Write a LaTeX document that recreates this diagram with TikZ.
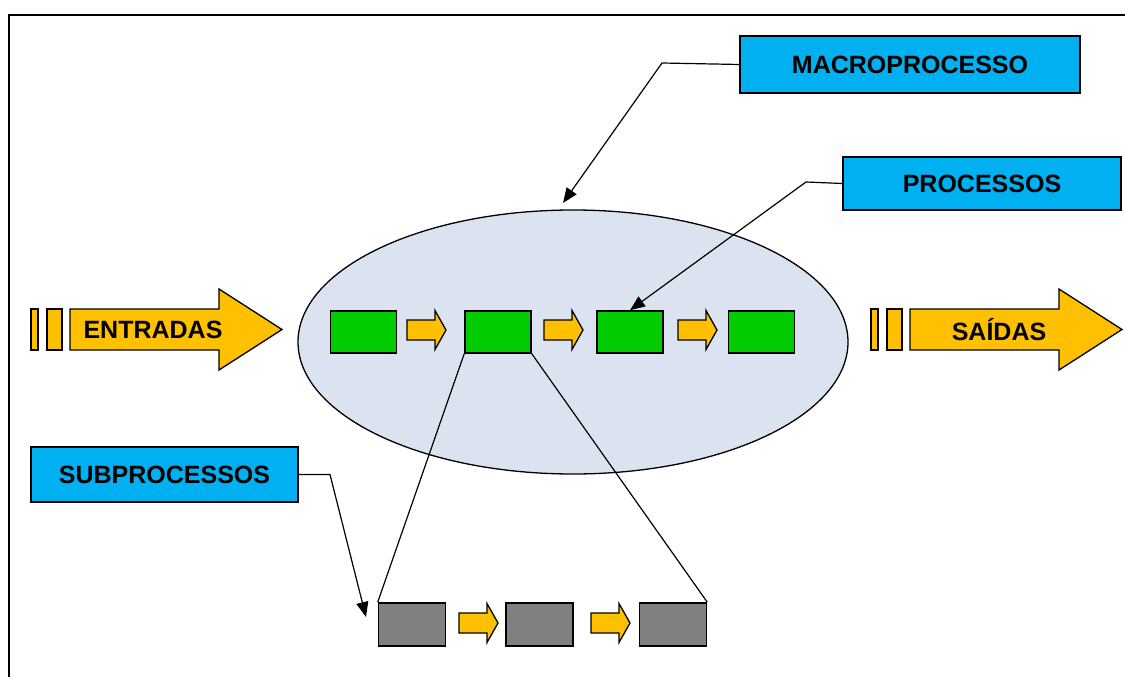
\documentclass[tikz,border=0pt]{standalone}
\usepackage{fontspec}
\setmainfont{Liberation Sans}
\usetikzlibrary{shapes.geometric,arrows.meta}
\definecolor{labelblue}{RGB}{0,176,240}
\definecolor{flowgold}{RGB}{255,192,0}
\definecolor{procgreen}{RGB}{0,204,0}
\definecolor{subgray}{RGB}{128,128,128}
\definecolor{macrofill}{RGB}{219,227,240}
\begin{document}
\begin{tikzpicture}[x=1pt,y=-1pt,
  labelbox/.style={draw, line width=1.3pt, fill=labelblue, inner sep=0pt,
    font=\fontsize{25}{29}\selectfont\bfseries},
  arrowtext/.style={inner sep=0pt, font=\fontsize{25}{29}\selectfont\bfseries},
  procbox/.style={draw, line width=1.6pt, fill=procgreen, minimum width=66pt,
    minimum height=42pt, inner sep=0pt},
  subbox/.style={draw, line width=1.6pt, fill=subgray, minimum width=67pt,
    minimum height=43pt, inner sep=0pt},
  flow/.style={draw, line width=1.3pt, fill=flowgold, line join=miter},
  callout/.style={line width=1.2pt, -{Triangle[length=15pt,width=12pt]}},
  link/.style={line width=1.2pt},
  smallarrow/.pic={\path[flow] (0,-10) -- (28,-10) -- (28,-19.5) -- (39,0)
    -- (28,19.5) -- (28,10) -- (0,10) -- cycle;}
]
\useasboundingbox (0,0) rectangle (1125,677);

% outer frame (open at right and bottom)
\draw[line width=1.8pt] (9,677) -- (9,15) -- (1125,15);

% macroprocess ellipse
\node[ellipse, draw, line width=1.3pt, fill=macrofill, inner sep=0pt,
  minimum width=550pt, minimum height=264pt] (macro) at (573,342) {};

% process chain
\node[procbox] (p1) at (363.5,332) {};
\node[procbox] (p2) at (498,332) {};
\node[procbox] (p3) at (630,332) {};
\node[procbox] (p4) at (761.5,332) {};
\pic at (407,330) {smallarrow};
\pic at (544,330) {smallarrow};
\pic at (678,330) {smallarrow};

% subprocess chain
\node[subbox] (s1) at (412,624.5) {};
\node[subbox] (s2) at (539.5,624.5) {};
\node[subbox] (s3) at (673,624.5) {};
\pic at (459,623) {smallarrow};
\pic at (591,623) {smallarrow};

% expansion of the second process
\draw[link] (p2.south west) -- (s1.north west);
\draw[link] (p2.south east) -- (s3.north east);

% inputs
\draw[flow] (31,309) rectangle (38,350);
\draw[flow] (47,309) rectangle (62,350);
\path[flow] (70,309) -- (219,309) -- (219,289) -- (282,329.5) -- (219,370)
  -- (219,350) -- (70,350) -- cycle;
\node[arrowtext] (entradas) at (153,330) {ENTRADAS};

% outputs
\draw[flow] (871,309) rectangle (878,350);
\draw[flow] (887,309) rectangle (902,350);
\path[flow] (910,309) -- (1059,309) -- (1059,289) -- (1122,329.5) -- (1059,370)
  -- (1059,350) -- (910,350) -- cycle;
\node[arrowtext] (saidas) at (999,330) {SAÍDAS};

% labels
\node[labelbox, minimum width=340pt, minimum height=57pt] (macrolabel)
  at (910,64.5) {MACROPROCESSO};
\node[labelbox, minimum width=278pt, minimum height=53pt] (proclabel)
  at (982,183.5) {PROCESSOS};
\node[labelbox, minimum width=267pt, minimum height=55pt] (sublabel)
  at (164.5,474.5) {SUBPROCESSOS};

% callouts
\coordinate (mbend) at (662,63);
\coordinate (mtip) at (563,203);
\coordinate (pbend) at (806,182);
\coordinate (sbend) at (330,474.5);
\coordinate (stip) at (366,617);
\draw[callout] (macrolabel.west) -- (mbend) -- (mtip);
\draw[callout] (proclabel.west) -- (pbend) -- (p3.north);
\draw[callout] (sublabel.east) -- (sbend) -- (stip);
\end{tikzpicture}
\end{document}
